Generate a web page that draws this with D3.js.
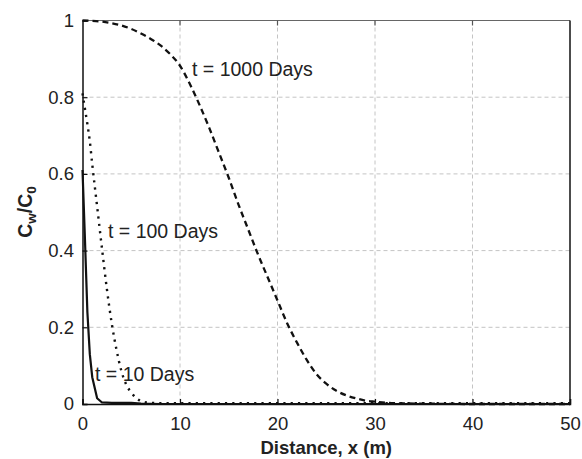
<!DOCTYPE html>
<html>
<head>
<meta charset="utf-8">
<script src="https://cdn.jsdelivr.net/npm/d3@7"></script>
<style>
  html, body { margin: 0; padding: 0; background: #fff; }
  svg { display: block; font-family: "Liberation Sans", Arial, Helvetica, sans-serif; }
</style>
</head>
<body>
<svg id="chart" width="582" height="459"></svg>
<script>
// Relative concentration Cw/C0 along the flow path at three elapsed times.
const xTicks = [0, 10, 20, 30, 40, 50];
const yTicks = [0, 0.2, 0.4, 0.6, 0.8, 1];
const yTickLabels = ["0", "0.2", "0.4", "0.6", "0.8", "1"];

// t = 10 days (solid)
const x10 = [0, 0.25, 0.5, 0.75, 1, 1.5, 2, 3, 4, 5, 6, 8, 10, 20, 30, 40, 50];
const c10 = [0.61, 0.43, 0.24, 0.13, 0.07, 0.015, 0.004, 0.003, 0.003, 0.003, 0.001, 0, 0, 0, 0, 0, 0];

// t = 100 days (dotted)
const x100 = [0, 0.25, 0.5, 0.75, 1, 1.5, 2, 2.5, 3, 3.5, 4, 4.5, 5, 5.5, 6, 7, 8, 10, 20, 30, 40, 50];
const c100 = [0.81, 0.77, 0.73, 0.685, 0.625, 0.515, 0.405, 0.30, 0.21, 0.14, 0.085, 0.05, 0.03, 0.016, 0.008, 0.003, 0.002, 0.002, 0.002, 0.002, 0.002, 0.002];

// t = 1000 days (dashed)
const x1000 = [0, 1, 2, 3, 4, 5, 6, 7, 8, 9, 10, 11, 12, 13, 14, 15, 16, 17, 18, 19, 20, 21, 22, 23, 24, 25, 26, 27, 28, 29, 30, 32, 35, 40, 45, 50];
const c1000 = [1.0, 0.999, 0.997, 0.993, 0.987, 0.978, 0.966, 0.952, 0.935, 0.912, 0.882, 0.835, 0.78, 0.72, 0.655, 0.59, 0.52, 0.455, 0.39, 0.33, 0.27, 0.21, 0.16, 0.115, 0.078, 0.053, 0.035, 0.023, 0.015, 0.009, 0.006, 0.002, 0.001, 0, 0, 0];

const curveLabels = ["t = 10 Days", "t = 100 Days", "t = 1000 Days"];

const svg = d3.select("#chart");
const plotLeft = 82.5, plotRight = 570, plotTop = 20.5, plotBottom = 404;

const x = d3.scaleLinear().domain([0, 50]).range([plotLeft, plotRight]);
const y = d3.scaleLinear().domain([0, 1]).range([plotBottom, plotTop]);

// grid
const grid = svg.append("g").attr("stroke", "#c4c4c4").attr("stroke-width", 1).attr("stroke-dasharray", "4,3");
grid.selectAll("line.gx").data(xTicks.slice(1, -1)).join("line")
  .attr("x1", d => x(d)).attr("x2", d => x(d)).attr("y1", plotTop).attr("y2", plotBottom);
grid.selectAll("line.gy").data(yTicks.slice(1, -1)).join("line")
  .attr("y1", d => y(d)).attr("y2", d => y(d)).attr("x1", plotLeft).attr("x2", plotRight);

// frame
svg.append("line").attr("x1", plotLeft).attr("x2", plotRight).attr("y1", plotTop).attr("y2", plotTop).attr("stroke", "#666").attr("stroke-width", 1.2);
svg.append("line").attr("x1", plotRight).attr("x2", plotRight).attr("y1", plotTop).attr("y2", plotBottom).attr("stroke", "#111").attr("stroke-width", 1.5);

// axes with inward ticks
const tickFont = "18.5px";
const xAxis = d3.axisBottom(x).tickValues(xTicks).tickSize(-5).tickPadding(13).tickFormat(d3.format("d"));
const gx = svg.append("g").attr("transform", `translate(0,${plotBottom})`).call(xAxis);
gx.select(".domain").attr("stroke", "#111").attr("stroke-width", 1.5);
gx.selectAll(".tick line").attr("stroke", "#111").attr("stroke-width", 1.2);
gx.selectAll(".tick text").attr("font-size", tickFont).attr("fill", "#222");
gx.attr("font-family", null).attr("font-size", null);

const yAxis = d3.axisLeft(y).tickValues(yTicks).tickSize(-5).tickPadding(8.5).tickFormat((d, i) => yTickLabels[i]);
const gy = svg.append("g").attr("transform", `translate(${plotLeft},0)`).call(yAxis);
gy.select(".domain").attr("stroke", "#111").attr("stroke-width", 1.5);
gy.selectAll(".tick line").attr("stroke", "#111").attr("stroke-width", 1.2);
gy.selectAll(".tick text").attr("font-size", tickFont).attr("fill", "#222");
gy.attr("font-family", null).attr("font-size", null);

// top ticks
svg.append("g").selectAll("line").data(xTicks.slice(1, -1)).join("line")
  .attr("x1", d => x(d)).attr("x2", d => x(d)).attr("y1", plotTop).attr("y2", plotTop + 5)
  .attr("stroke", "#555").attr("stroke-width", 1.2);

// curves
const lineLinear = d3.line().x(d => x(d[0])).y(d => y(d[1]));
const lineSmooth = d3.line().x(d => x(d[0])).y(d => y(d[1])).curve(d3.curveMonotoneX);

svg.append("path").datum(d3.zip(x1000, c1000)).attr("d", lineSmooth)
  .attr("fill", "none").attr("stroke", "#111").attr("stroke-width", 2.3).attr("stroke-dasharray", "6,4");
svg.append("path").datum(d3.zip(x100, c100)).attr("d", lineSmooth)
  .attr("fill", "none").attr("stroke", "#111").attr("stroke-width", 2.4).attr("stroke-dasharray", "2.2,5.1");
svg.append("path").datum(d3.zip(x10, c10)).attr("d", lineLinear)
  .attr("fill", "none").attr("stroke", "#111").attr("stroke-width", 2.2).attr("stroke-linejoin", "round");

// curve annotations
const ann = svg.append("g").attr("font-size", "19.5px").attr("fill", "#222");
ann.append("text").attr("x", 95).attr("y", 381).text(curveLabels[0]);
ann.append("text").attr("x", 108).attr("y", 238).text(curveLabels[1]);
ann.append("text").attr("x", 192).attr("y", 76).text(curveLabels[2]);

// axis titles
svg.append("text").attr("x", (plotLeft + plotRight) / 2).attr("y", 454)
  .attr("text-anchor", "middle").attr("font-weight", "bold").attr("font-size", "18.5px").attr("fill", "#222")
  .text("Distance, x (m)");

const yl = svg.append("text").attr("transform", "translate(32,212) rotate(-90)")
  .attr("text-anchor", "middle").attr("font-weight", "bold").attr("font-size", "19.5px").attr("fill", "#222");
yl.append("tspan").text("C");
yl.append("tspan").attr("font-size", "13.5px").attr("dy", 4).text("w");
yl.append("tspan").attr("dy", -4).text("/C");
yl.append("tspan").attr("font-size", "13.5px").attr("dy", 4).text("0");
</script>
</body>
</html>
